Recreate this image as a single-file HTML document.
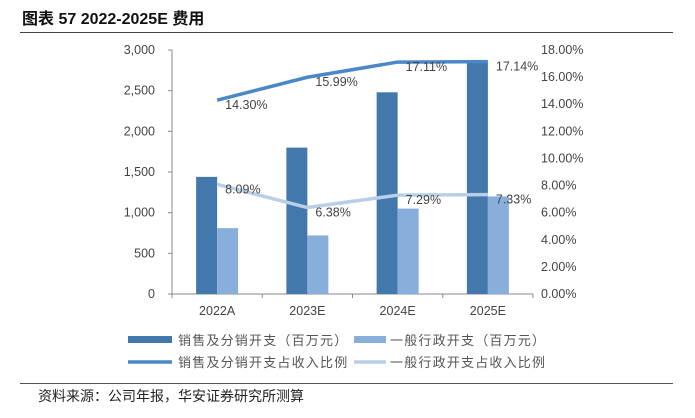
<!DOCTYPE html>
<html><head><meta charset="utf-8"><style>
body{margin:0;background:#fff;}
svg{display:block;font-family:"Liberation Sans","Noto Sans CJK SC",sans-serif;}
</style></head><body>
<svg id="c" width="695" height="418">
<text x="22" y="24" font-size="16" font-weight="bold" fill="#111">图表 57 2022-2025E 费用</text>
<line x1="20" y1="32.5" x2="673" y2="32.5" stroke="#444" stroke-width="1"/>
<g id="plot"></g>
<g font-size="13" fill="#555" letter-spacing="1.2">
<rect x="128" y="336" width="44" height="7" fill="#4278ab"/>
<text x="178" y="345">销售及分销开支（百万元）</text>
<rect x="354" y="336" width="32" height="7" fill="#88aedb"/>
<text x="390" y="345">一般行政开支（百万元）</text>
<line x1="128" y1="362" x2="172" y2="362" stroke="#4a88c7" stroke-width="3.5"/>
<text x="178" y="367">销售及分销开支占收入比例</text>
<line x1="354" y1="362" x2="386" y2="362" stroke="#b9cfe8" stroke-width="3.5"/>
<text x="390" y="367">一般行政开支占收入比例</text>
</g>
<line x1="20" y1="383.5" x2="673" y2="383.5" stroke="#555" stroke-width="1"/>
<text x="38" y="401" font-size="14" fill="#222">资料来源：公司年报，华安证券研究所测算</text>
</svg>
<script>
const categories=["2022A","2023E","2024E","2025E"];
const salesValues=[1440,1800,2480,2850];
const adminValues=[810,720,1050,1200];
const salesRatio=[14.30,15.99,17.11,17.14];
const adminRatio=[8.09,6.38,7.29,7.33];
const leftTicks=[0,500,1000,1500,2000,2500,3000];
const rightTicks=[0,2,4,6,8,10,12,14,16,18];
const NS="http://www.w3.org/2000/svg";
const g=document.getElementById('plot');
const x0=172,x1=533,yTop=50,yBot=294;
const band=(x1-x0)/categories.length;
const yL=v=>yBot-(v/3000)*(yBot-yTop);
const yR=v=>yBot-(v/18)*(yBot-yTop);
const cx=i=>x0+band*(i+0.5);
function mk(t,a){const e=document.createElementNS(NS,t);for(const k in a)e.setAttribute(k,a[k]);g.appendChild(e);return e;}
let e=mk('line',{x1:x0,y1:yTop,x2:x0,y2:yBot,stroke:'#888'});


e=mk('line',{x1:x0,y1:yBot,x2:x1,y2:yBot,stroke:'#888'});


leftTicks.forEach(v=>{
  const y=yL(v);
  mk('line',{x1:x0-4,y1:y,x2:x0,y2:y,stroke:'#888'});
  const t=mk('text',{x:155,y:y+4,'text-anchor':'end','font-size':12.5,fill:'#444'});
  t.textContent=v.toLocaleString('en-US');
  
  
});
rightTicks.forEach(v=>{
  const t=mk('text',{x:541,y:yR(v)+4,'font-size':12.5,fill:'#444'});
  t.textContent=v.toFixed(2)+'%';
  
  
});
for(let i=0;i<=categories.length;i++){mk('line',{x1:x0+band*i,y1:yBot,x2:x0+band*i,y2:yBot+4,stroke:'#888'});}
categories.forEach((c,i)=>{
  const t=mk('text',{x:cx(i),y:yBot+21,'text-anchor':'middle','font-size':12.5,fill:'#444'});
  t.textContent=c;
  
  
  const b1=mk('rect',{x:cx(i)-21,y:yL(salesValues[i]),width:21,height:yBot-yL(salesValues[i]),fill:'#4278ab'});
  
  
  const b2=mk('rect',{x:cx(i),y:yL(adminValues[i]),width:21,height:yBot-yL(adminValues[i]),fill:'#88aedb'});
  
  
});
function line(arr,color,name){
  const p=mk('polyline',{points:arr.map((v,i)=>cx(i)+','+yR(v)).join(' '),fill:'none',stroke:color,'stroke-width':3.5,'stroke-linejoin':'round'});
  
  
  arr.forEach((v,i)=>{
    const t=mk('text',{x:cx(i)+8,y:yR(v)+9,'font-size':12.5,fill:'#444'});
    t.textContent=v.toFixed(2)+'%';
    
    
  });
}
line(salesRatio,'#4a88c7','line-sales-ratio');
line(adminRatio,'#b9cfe8','line-admin-ratio');
</script>
</body></html>
